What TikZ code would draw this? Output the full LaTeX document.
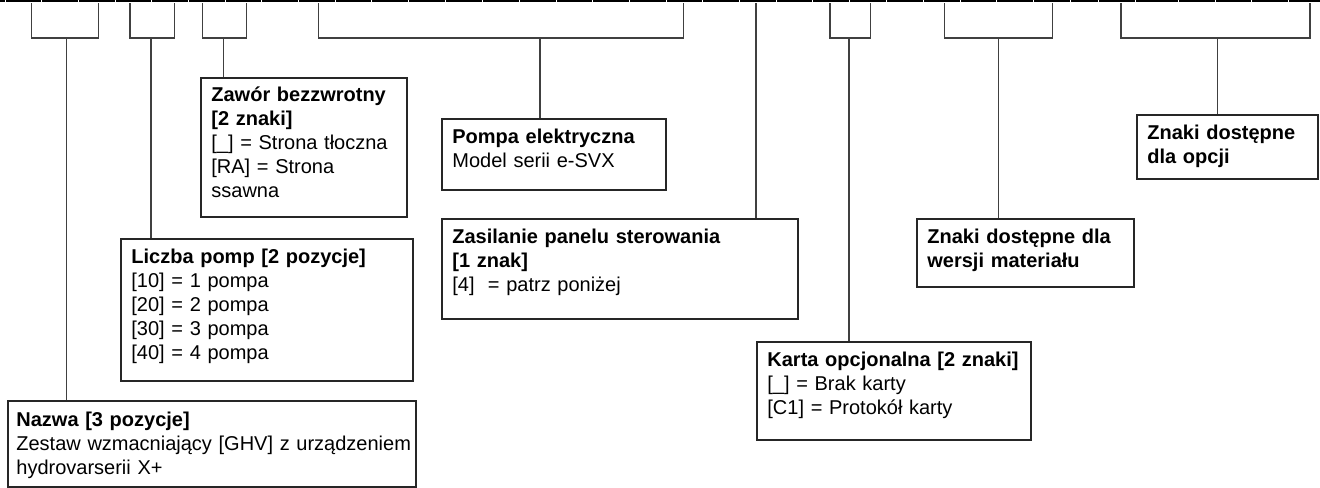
\documentclass[tikz,border=0pt]{standalone}
\usepackage{fontspec}
\setmainfont{Liberation Sans}
\begin{document}
\begin{tikzpicture}[x=0.5pt, y=-0.5pt,
    box/.style={draw=black!85, line width=1pt, anchor=north west, inner sep=0pt},
    opis/.style={anchor=base west, align=left, inner sep=0pt, font=\fontsize{10}{12}\selectfont},
    klamra/.style={draw=black!75, line width=0.65pt}]
    \useasboundingbox (0,0) rectangle (1320,487);

    % Code cells along the top edge
    \draw[line width=1pt] (0,1) -- (1320,1);
    \foreach \x in {5,41.7,78.3,115,151.7,188.3,225,261.7,298.3,335,371.7,408.3,445,482.7,519.3,556,592.7,629.3,666,702.7,739.3,776,812.7,849.3,886.7,923.3,960,996.7,1033.3,1070,1098.3,1135,1178.3,1215,1251.7,1288.3}
        \draw[white, line width=0.4pt] (\x,0) -- (\x,2.2);

    % Description boxes
    \node[box, minimum width=204pt, minimum height=43pt] (nazwa) at (7,400) {};
    \node[box, minimum width=146pt, minimum height=71pt] (liczba) at (120,238) {};
    \node[box, minimum width=103pt, minimum height=69.5pt] (zawor) at (200,77) {};
    \node[box, minimum width=112pt, minimum height=35.5pt] (pompa) at (441,118) {};
    \node[box, minimum width=178pt, minimum height=50pt] (zasilanie) at (441,218) {};
    \node[box, minimum width=137pt, minimum height=49pt] (karta) at (756,341) {};
    \node[box, minimum width=108.5pt, minimum height=34pt] (wersja) at (916,218) {};
    \node[box, minimum width=90.5pt, minimum height=32pt] (opcje) at (1136,114) {};

    % Box texts
    \node[opis, text width=240pt] (nazwa-t) at ([xshift=4.5pt, yshift=-13pt]nazwa.north west)
        {\textbf{Nazwa [3 pozycje]}\\Zestaw wzmacniający [GHV] z urządzeniem\\hydrovarserii X+};
    \node[opis, text width=170pt] (liczba-t) at ([xshift=5.5pt, yshift=-12.5pt]liczba.north west)
        {\textbf{Liczba pomp [2 pozycje]}\\{[10]} = 1 pompa\\{[20]} = 2 pompa\\{[30]} = 3 pompa\\{[40]} = 4 pompa};
    \node[opis, text width=130pt] (zawor-t) at ([xshift=5.5pt, yshift=-12pt]zawor.north west)
        {\textbf{Zawór bezzwrotny}\\\textbf{[2 znaki]}\\{[\_]} = Strona tłoczna\\{[RA]} = Strona\\ssawna};
    \node[opis, text width=140pt] (pompa-t) at ([xshift=5.5pt, yshift=-12.5pt]pompa.north west)
        {\textbf{Pompa elektryczna}\\Model serii e-SVX};
    \node[opis, text width=200pt] (zasilanie-t) at ([xshift=5.5pt, yshift=-12.5pt]zasilanie.north west)
        {\textbf{Zasilanie panelu sterowania}\\\textbf{[1 znak]}\\{[4]}\ \ = patrz poniżej};
    \node[opis, text width=160pt] (karta-t) at ([xshift=5.5pt, yshift=-12.5pt]karta.north west)
        {\textbf{Karta opcjonalna [2 znaki]}\\{[\_]} = Brak karty\\{[C1]} = Protokół karty};
    \node[opis, text width=130pt] (wersja-t) at ([xshift=5.5pt, yshift=-12.5pt]wersja.north west)
        {\textbf{Znaki dostępne dla}\\\textbf{wersji materiału}};
    \node[opis, text width=110pt] (opcje-t) at ([xshift=5.5pt, yshift=-12.5pt]opcje.north west)
        {\textbf{Znaki dostępne}\\\textbf{dla opcji}};

    % Brackets from the cells down to the boxes
    \foreach \a/\b/\s/\n in {31.7/98.3/66.7/nazwa, 130/174.3/151/liczba, 202.7/246.7/223.3/zawor,
                             318.3/683.3/540/pompa, 830/870.7/849/karta, 944.3/1052.3/998.3/wersja,
                             1121/1310/1217.7/opcje} {
        \coordinate (\n-l) at (\a,3);
        \coordinate (\n-r) at (\b,3);
        \coordinate (\n-s) at (\s,38);
        \draw[klamra] (\n-l) |- (\n-s) -| (\n-r);
        \draw[klamra] (\n-s) -- (\n-s |- \n.north);
    }
    \coordinate (zasilanie-s) at (756,3);
    \draw[klamra] (zasilanie-s) -- (zasilanie-s |- zasilanie.north);
\end{tikzpicture}
\end{document}
